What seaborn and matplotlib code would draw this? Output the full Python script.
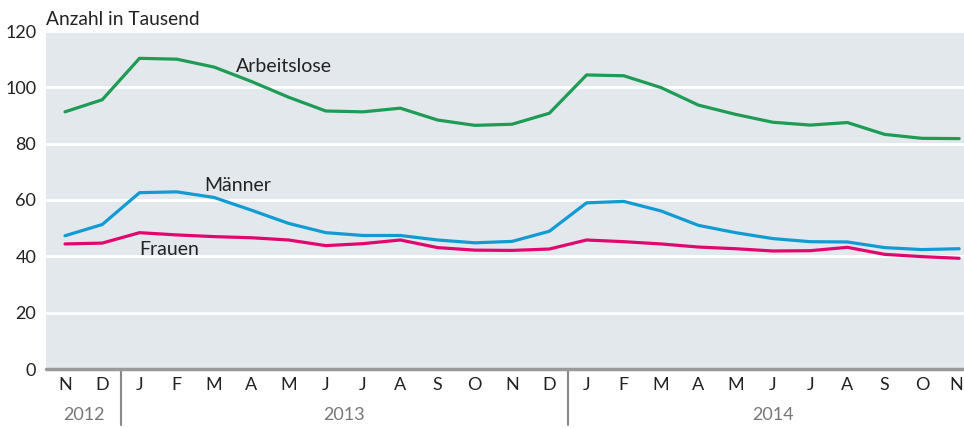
import numpy as np
import pandas as pd
import seaborn as sns
import matplotlib.pyplot as plt
import matplotlib.transforms as mtransforms

# Monate Nov 2012 - Nov 2014
months = ['N', 'D', 'J', 'F', 'M', 'A', 'M', 'J', 'J', 'A', 'S', 'O', 'N', 'D',
          'J', 'F', 'M', 'A', 'M', 'J', 'J', 'A', 'S', 'O', 'N']
years = ['2012', '2013', '2014']

arbeitslose = [91.3, 95.6, 110.3, 110.0, 107.2, 102.1, 96.5, 91.6, 91.3, 92.6, 88.4, 86.5,
               86.9, 90.8, 104.4, 104.1, 99.9, 93.7, 90.4, 87.6, 86.6, 87.5, 83.3, 81.9, 81.8]
maenner = [47.3, 51.3, 62.6, 62.9, 60.9, 56.4, 51.7, 48.4, 47.4, 47.4, 45.8, 44.8,
           45.3, 48.9, 59.0, 59.5, 56.1, 51.0, 48.4, 46.3, 45.2, 45.1, 43.1, 42.4, 42.7]
frauen = [44.4, 44.7, 48.4, 47.6, 47.0, 46.6, 45.8, 43.8, 44.5, 45.8, 43.1, 42.2,
          42.1, 42.6, 45.8, 45.2, 44.4, 43.3, 42.7, 41.9, 42.0, 43.2, 40.7, 39.9, 39.3]

farben = {'Arbeitslose': '#1e9b55', 'Männer': '#129bd3', 'Frauen': '#e2076f'}

x = np.arange(len(months))
df = pd.DataFrame({
    'x': np.concatenate([x, x, x]),
    'wert': arbeitslose + maenner + frauen,
    'reihe': ['Arbeitslose'] * len(x) + ['Männer'] * len(x) + ['Frauen'] * len(x),
})

sns.set_style('white')
plt.rcParams['font.family'] = ['Lato', 'DejaVu Sans']

fig = plt.figure(figsize=(9.64, 4.28), dpi=100)
ax = fig.add_axes([46 / 964, 1 - 369 / 428, 1 - 46 / 964, (369 - 31) / 428])
ax.set_facecolor('#e3e8ec')

sns.lineplot(data=df, x='x', y='wert', hue='reihe', palette=farben, linewidth=2.3,
             legend=False, ax=ax)

ax.set_xlim(-0.51, 24.13)
ax.set_ylim(0, 120)
ax.set_yticks([0, 20, 40, 60, 80, 100, 120])
ax.grid(axis='y', color='white', linewidth=2)
ax.set_axisbelow(True)
for s in ax.spines.values():
    s.set_visible(False)
ax.axhline(0, color='#9a9a9a', linewidth=2.5, clip_on=False, zorder=5)

ax.set_xticks(x)
ax.set_xticklabels(months, fontsize=13, color='#222222')
ax.tick_params(axis='x', length=0, pad=6)
ax.tick_params(axis='y', length=0, pad=7, labelsize=13, labelcolor='#222222')
ax.set_xlabel('')
ax.set_ylabel('')

# letztes "N" etwas nach links, damit es nicht abgeschnitten wird
last = ax.get_xticklabels()[-1]
last.set_transform(last.get_transform() + mtransforms.ScaledTranslation(-3 / 100, 0, fig.dpi_scale_trans))

trans = mtransforms.blended_transform_factory(ax.transData, ax.transAxes)
ax.text(-0.51, 1.01, 'Anzahl in Tausend', transform=trans,
        fontsize=13.8, color='#222222', ha='left', va='bottom')

# Beschriftung der Linien
ax.text(4.6, 107.3, 'Arbeitslose', fontsize=14, color='#222222', ha='left', va='center')
ax.text(3.75, 65.2, 'Männer', fontsize=14, color='#222222', ha='left', va='center')
ax.text(2.0, 42.6, 'Frauen', fontsize=14, color='#222222', ha='left', va='center')

# Jahre und Trennlinien
for pos in [1.5, 13.5]:
    ax.plot([pos, pos], [0, -0.165], color='#888888', linewidth=1.5, transform=trans, clip_on=False)
for xc, jahr in zip([0.5, 7.5, 19.0], years):
    ax.text(xc, -0.135, jahr, transform=trans, fontsize=13, color='#777777', ha='center', va='center')

fig.savefig('out.png', dpi=100)
